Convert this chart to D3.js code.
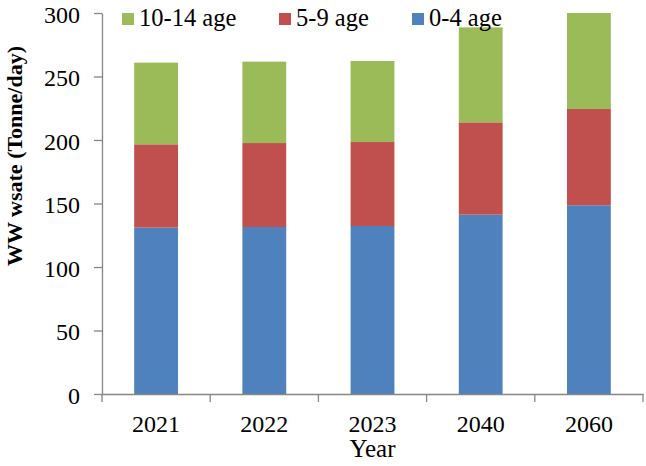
<!DOCTYPE html>
<html>
<head>
<meta charset="utf-8">
<script src="https://cdn.jsdelivr.net/npm/d3@7"></script>
<style>
  html, body { margin: 0; padding: 0; background: #fff; }
  svg { display: block; font-family: "Liberation Serif", "Times New Roman", serif; }
</style>
</head>
<body>
<svg id="chart" width="646" height="466"></svg>
<script>
const years = ["2021", "2022", "2023", "2040", "2060"];
const age0to4 = [131.0, 131.5, 132.3, 141.2, 148.6];
const age5to9 = [65.6, 66.1, 66.1, 72.7, 75.8];
const age10to14 = [64.3, 64.1, 63.8, 74.8, 75.6];
const seriesNames = ["0-4 age", "5-9 age", "10-14 age"];
const seriesColors = ["#4F81BD", "#C0504D", "#9BBB59"];
const yTicks = [0, 50, 100, 150, 200, 250, 300];

const svg = d3.select("#chart");
const mLeft = 102, mRight = 643, mTop = 13, mBottom = 394;

const x = d3.scaleBand().domain(years).range([mLeft, mRight]).padding(0);
const y = d3.scaleLinear().domain([0, 300]).range([mBottom, mTop]);
const barW = x.bandwidth() * 0.405;

const table = years.map((yr, i) => ({ year: yr, "0-4 age": age0to4[i], "5-9 age": age5to9[i], "10-14 age": age10to14[i] }));
const stacked = d3.stack().keys(seriesNames)(table);

svg.append("clipPath").attr("id", "plotclip")
  .append("rect").attr("x", mLeft).attr("y", mTop).attr("width", mRight - mLeft).attr("height", mBottom - mTop);

const gBars = svg.append("g").attr("clip-path", "url(#plotclip)");
stacked.forEach((layer, k) => {
  gBars.selectAll(null).data(layer).enter().append("rect")
    .attr("x", d => x(d.data.year) + (x.bandwidth() - barW) / 2)
    .attr("width", barW)
    .attr("y", d => y(d[1]))
    .attr("height", d => y(d[0]) - y(d[1]))
    .attr("fill", seriesColors[k]);
});

const axisColor = "#868686";

// Y axis
const yAxis = svg.append("g").attr("transform", `translate(${mLeft},0)`)
  .call(d3.axisLeft(y).tickValues(yTicks).tickSize(8).tickPadding(14).tickSizeOuter(0));
yAxis.attr("font-family", null);
yAxis.select(".domain").attr("stroke", axisColor).attr("stroke-width", 1.3);
yAxis.selectAll(".tick line").attr("stroke", axisColor).attr("stroke-width", 1.3);
yAxis.selectAll(".tick text").attr("font-size", 24).attr("fill", "#000")
  .attr("font-family", "Liberation Serif").attr("dy", "0.38em");

// X axis
const xAxis = svg.append("g").attr("transform", `translate(0,${mBottom})`)
  .call(d3.axisBottom(x).tickSize(0).tickPadding(21));
xAxis.attr("font-family", null);
xAxis.select(".domain").attr("stroke", axisColor).attr("stroke-width", 1.3);
xAxis.selectAll(".tick text").attr("font-size", 24).attr("fill", "#000")
  .attr("font-family", "Liberation Serif").attr("dy", "0.71em");
// boundary ticks between categories
const bounds = years.map(yr => x(yr)).concat([x(years[years.length - 1]) + x.bandwidth()]);
xAxis.selectAll(".bt").data(bounds).enter().append("line")
  .attr("x1", d => d).attr("x2", d => d).attr("y1", 0).attr("y2", 8)
  .attr("stroke", axisColor).attr("stroke-width", 1.3);

// Axis titles
svg.append("text").attr("x", (mLeft + mRight) / 2).attr("y", 457)
  .attr("text-anchor", "middle").attr("font-size", 25).text("Year");
svg.append("text")
  .attr("transform", "translate(22,156) rotate(-90)")
  .attr("text-anchor", "middle").attr("font-size", 22).attr("font-weight", "bold")
  .text("WW wsate (Tonne/day)");

// Legend (order: 10-14, 5-9, 0-4)
const legendItems = [
  { name: "10-14 age", color: seriesColors[2], x: 122 },
  { name: "5-9 age", color: seriesColors[1], x: 279 },
  { name: "0-4 age", color: seriesColors[0], x: 412 }
];
const lg = svg.append("g");
legendItems.forEach(it => {
  lg.append("rect").attr("x", it.x).attr("y", 13).attr("width", 12).attr("height", 12).attr("fill", it.color);
  lg.append("text").attr("x", it.x + 17).attr("y", 26).attr("font-size", 24.5).text(it.name);
});
</script>
</body>
</html>
